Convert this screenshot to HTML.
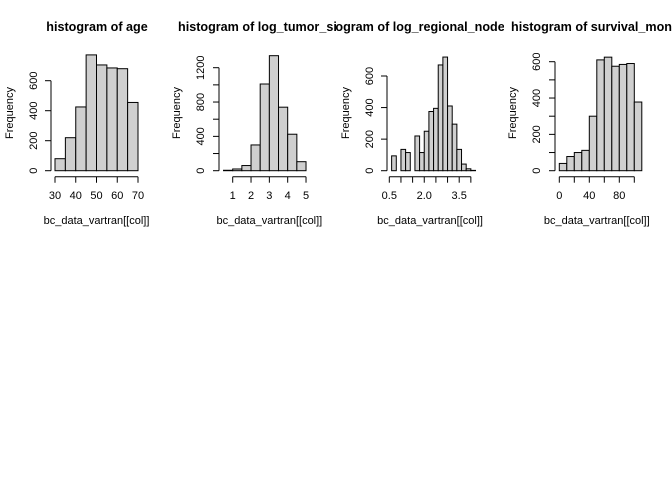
<!DOCTYPE html>
<html><head><meta charset="utf-8"><style>
html,body{margin:0;padding:0;background:#fff;}
svg{display:block;font-family:"Liberation Sans",Arial,sans-serif;}
</style></head><body>
<svg id="chart" width="672" height="480" viewBox="0 0 672 480" xmlns="http://www.w3.org/2000/svg">
<defs>
<clipPath id="c0"><rect x="0" y="0" width="168" height="240"/></clipPath>
<clipPath id="c1"><rect x="168" y="0" width="168" height="240"/></clipPath>
<clipPath id="c2"><rect x="336" y="0" width="168" height="240"/></clipPath>
<clipPath id="c3"><rect x="504" y="0" width="168" height="240"/></clipPath>
</defs>
</svg>
<script>
// Panel 1: age
const ageBreaks = [30,35,40,45,50,55,60,65,70];
const ageCounts = [80,220,425,772,705,685,680,455];
const ageXTicks = [30,40,50,60,70];
const ageXLabels = ["30","40","50","60","70"];
const ageYTicks = [0,200,400,600];
const ageYLabels = ["0","200","400","600"];
// Panel 2: log_tumor_size
const tumorBreaks = [0.5,1,1.5,2,2.5,3,3.5,4,4.5,5];
const tumorCounts = [5,20,60,300,1010,1340,740,425,105];
const tumorXTicks = [1,2,3,4,5];
const tumorXLabels = ["1","2","3","4","5"];
const tumorYTicks = [0,200,400,600,800,1000,1200];
const tumorYLabels = ["0","","400","","800","","1200"];
// Panel 3: log_regional_node_positive
const nodeBreaks = [0.6,0.8,1.0,1.2,1.4,1.6,1.8,2.0,2.2,2.4,2.6,2.8,3.0,3.2,3.4,3.6,3.8,4.0,4.2];
const nodeCounts = [94,0,135,115,0,220,115,250,375,395,670,720,410,295,135,42,12,2];
const nodeXTicks = [0.5,1.0,1.5,2.0,2.5,3.0,3.5,4.0];
const nodeXLabels = ["0.5","","","2.0","","","3.5",""];
const nodeYTicks = [0,200,400,600];
const nodeYLabels = ["0","200","400","600"];
// Panel 4: survival_months
const survBreaks = [0,10,20,30,40,50,60,70,80,90,100,110];
const survCounts = [40,78,100,112,300,610,625,575,585,590,378];
const survXTicks = [0,20,40,60,80,100];
const survXLabels = ["0","","40","","80",""];
const survYTicks = [0,100,200,300,400,500,600];
const survYLabels = ["0","","200","","400","","600"];

const NS="http://www.w3.org/2000/svg";
const svg=document.getElementById('chart');
function mk(tag,attrs,parent,text){const e=document.createElementNS(NS,tag);for(const k in attrs)e.setAttribute(k,attrs[k]);if(text!==undefined)e.textContent=text;(parent||svg).appendChild(e);return e;}

const panels=[
 {key:'age',title:'histogram of age',clip:'c0',breaks:ageBreaks,counts:ageCounts,xt:ageXTicks,xl:ageXLabels,yt:ageYTicks,yl:ageYLabels,
  x0:30,x0px:55,xs:83/40,ys:90/600,yaxisX:51,ylabX:37,freqX:13,titleX:97,anchor:'middle'},
 {key:'tumor',title:'histogram of log_tumor_size',clip:'c1',breaks:tumorBreaks,counts:tumorCounts,xt:tumorXTicks,xl:tumorXLabels,yt:tumorYTicks,yl:tumorYLabels,
  x0:1,x0px:232.7,xs:18.33,ys:103/1200,yaxisX:219,ylabX:204,freqX:180,titleX:178,anchor:'start'},
 {key:'node',title:'histogram of log_regional_node_positive',clip:'c2',breaks:nodeBreaks,counts:nodeCounts,xt:nodeXTicks,xl:nodeXLabels,yt:nodeYTicks,yl:nodeYLabels,
  x0:0.5,x0px:389.3,xs:23.3,ys:94.7/600,yaxisX:387,ylabX:373,freqX:349,titleX:313,anchor:'start'},
 {key:'survival',title:'histogram of survival_months',clip:'c3',breaks:survBreaks,counts:survCounts,xt:survXTicks,xl:survXLabels,yt:survYTicks,yl:survYLabels,
  x0:0,x0px:559.3,xs:0.75,ys:109/600,yaxisX:555,ylabX:540,freqX:516,titleX:511,anchor:'start'}
];
const Y0=170.7, XAXISY=176.7;
panels.forEach(p=>{
  const g=mk('g',{});
  
  
  const X=v=>p.x0px+(v-p.x0)*p.xs;
  const Y=v=>Y0-v*p.ys;
  const t=mk('text',{x:p.titleX,y:31,'text-anchor':p.anchor,'font-size':'12.6','font-weight':'bold','clip-path':'url(#'+p.clip+')'},g,p.title);
  
  
  for(let i=0;i<p.counts.length;i++){
    const x1=X(p.breaks[i]),x2=X(p.breaks[i+1]),y=Y(p.counts[i]);
    const r=mk('rect',{x:x1,y:y,width:x2-x1,height:Y0-y,fill:'#cfcfcf',stroke:'#000','stroke-width':'1'},g);
    
    
  }
  const xa=mk('g',{stroke:'#000','stroke-width':'1'},g);
  
  
  mk('line',{x1:X(p.xt[0]),x2:X(p.xt[p.xt.length-1]),y1:XAXISY,y2:XAXISY},xa);
  p.xt.forEach((v,i)=>{
    mk('line',{x1:X(v),x2:X(v),y1:XAXISY,y2:XAXISY+6},xa);
    if(p.xl[i]){const l=mk('text',{x:X(v),y:199,'text-anchor':'middle','font-size':'11',stroke:'none',fill:'#000'},g,p.xl[i]);
      
      }
  });
  const ya=mk('g',{stroke:'#000','stroke-width':'1'},g);
  
  
  mk('line',{x1:p.yaxisX,x2:p.yaxisX,y1:Y(p.yt[0]),y2:Y(p.yt[p.yt.length-1])},ya);
  p.yt.forEach((v,i)=>{
    mk('line',{x1:p.yaxisX-6,x2:p.yaxisX,y1:Y(v),y2:Y(v)},ya);
    if(p.yl[i]){const l=mk('text',{x:p.ylabX,y:Y(v),'text-anchor':'middle','font-size':'11',transform:'rotate(-90 '+p.ylabX+' '+Y(v)+')'},g,p.yl[i]);
      
      }
  });
  const f=mk('text',{x:p.freqX,y:113,'text-anchor':'middle','font-size':'11',transform:'rotate(-90 '+p.freqX+' 113)'},g,'Frequency');
  
  
  const xl=mk('text',{x:(X(p.xt[0])+X(p.xt[p.xt.length-1]))/2,y:224,'text-anchor':'middle','font-size':'11'},g,'bc_data_vartran[[col]]');
  
  
});
</script>
</body></html>
